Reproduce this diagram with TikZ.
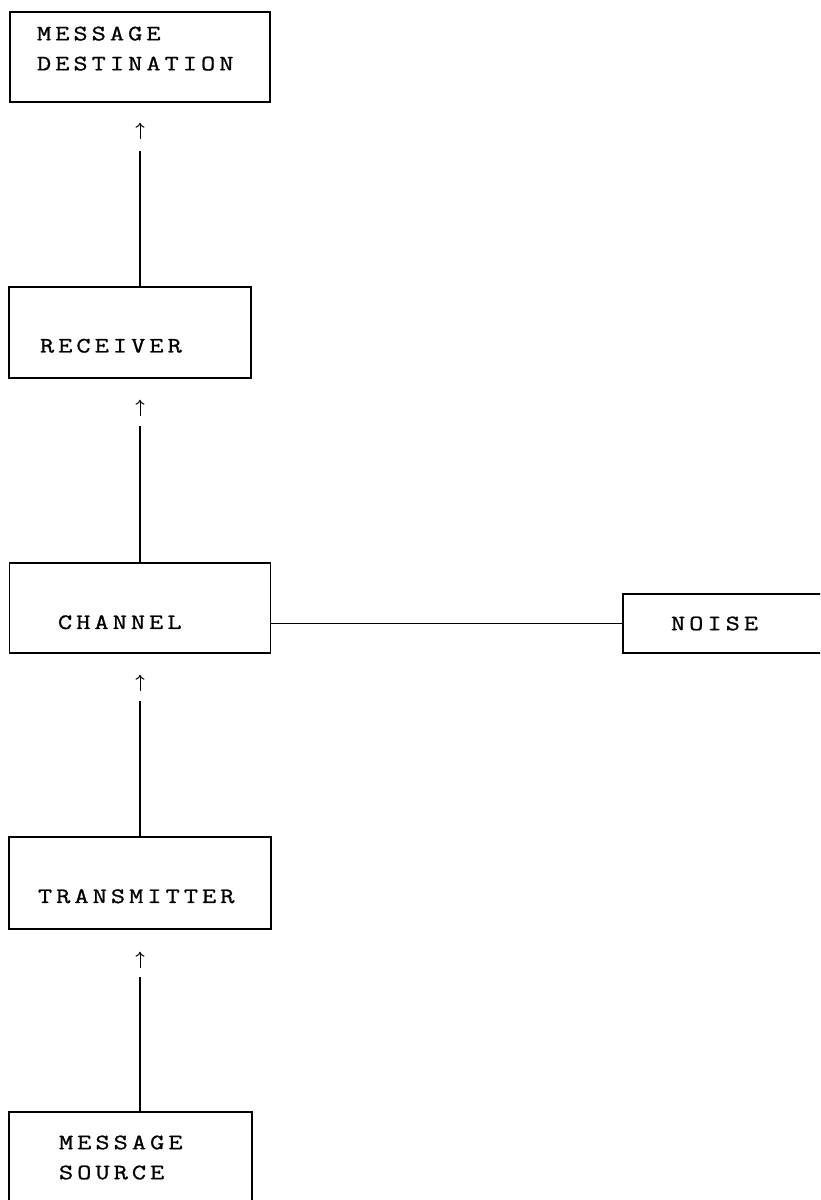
\documentclass[tikz,border=0pt]{standalone}
\usepackage{fontspec}
\newfontfamily\typewriter{Latin Modern Mono}[FakeStretch=1.25, FakeBold=1, LetterSpace=18.5]
\usetikzlibrary{arrows.meta}
\hyphenpenalty=10000
\tikzset{
  box/.style={draw, rectangle, line width=1.5pt, align=left,
    font=\typewriter\fontsize{22}{30}\selectfont},
  low/.style={text height=40pt, text depth=0pt},
  >={To[length=5pt,width=9pt]}
}
\begin{document}
\begin{tikzpicture}[x=1pt,y=1pt,line width=1.5pt]
\path[use as bounding box, clip] (0,0) rectangle (820,1200);

% boxes
\node[box, minimum width=260pt, minimum height=90pt, inner xsep=27pt, text width=206pt, text depth=47pt] (dest) at (140,1143) {MESSAGE\\DESTINATION};
\node[box, low, minimum width=242pt, minimum height=91pt, inner xsep=31pt, text width=180pt] (recv) at (130,867.5) {RECEIVER};
\node[box, low, minimum width=261pt, minimum height=90pt, inner xsep=48.5pt, text width=164pt, text height=42pt] (chan) at (140,592) {CHANNEL};
\node[box, minimum width=230pt, minimum height=59pt, inner xsep=48pt, text width=134pt] (noise) at (738,576.5) {NOISE};
\node[box, low, minimum width=262pt, minimum height=92pt, inner xsep=29pt, text width=204pt] (trans) at (140,317) {TRANSMITTER};
\node[box, minimum width=243pt, minimum height=91pt, inner xsep=50pt, text width=143pt] (src) at (130.5,42.5) {MESSAGE\\SOURCE};

% receiver up to destination
\draw (recv.north -| dest.south) -- ([yshift=-48pt]dest.south);
\draw[->, line width=1pt] ([yshift=-36pt]dest.south) -- ([yshift=-20pt]dest.south);

% channel up to receiver
\draw (chan.north) -- ([yshift=-47pt]recv.south -| chan.north);
\draw[->, line width=1pt] ([yshift=-37pt]recv.south -| chan.north) -- ([yshift=-21pt]recv.south -| chan.north);

% transmitter up to channel
\draw (trans.north) -- ([yshift=-47pt]chan.south -| trans.north);
\draw[->, line width=1pt] ([yshift=-37pt]chan.south -| trans.north) -- ([yshift=-21pt]chan.south -| trans.north);

% source up to transmitter
\draw (src.north -| trans.south) -- ([yshift=-47pt]trans.south);
\draw[->, line width=1pt] ([yshift=-38pt]trans.south) -- ([yshift=-22pt]trans.south);

% noise into channel
\draw (noise.west) -- (noise.west -| chan.east);
\end{tikzpicture}
\end{document}
